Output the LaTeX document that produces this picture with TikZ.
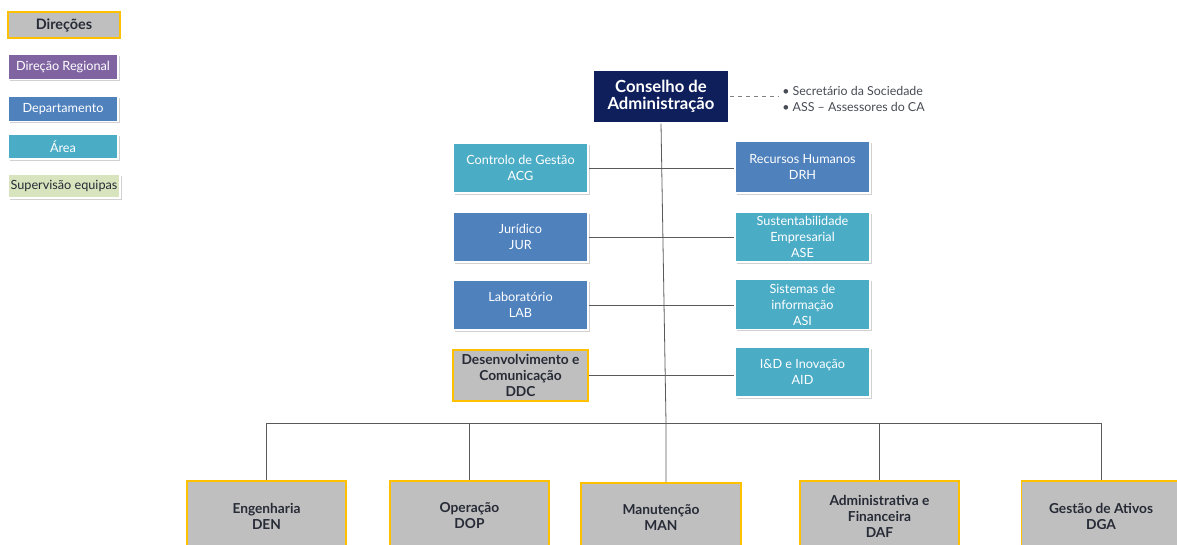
\documentclass[tikz,border=0pt]{standalone}
\usepackage{fontspec}
\setmainfont{Lato}
\usetikzlibrary{shadows}
\definecolor{navy}{HTML}{0E1F5C}
\definecolor{dblue}{HTML}{4F81BD}
\definecolor{teal}{HTML}{4BACC6}
\definecolor{purp}{HTML}{8064A2}
\definecolor{gry}{HTML}{BFBFBF}
\definecolor{yel}{HTML}{FFC000}
\definecolor{lgreen}{HTML}{D7E4BD}
\definecolor{txtdark}{HTML}{262B36}
\definecolor{linec}{HTML}{5A5A5A}
\tikzset{
  box/.style={rectangle, align=center, inner sep=1pt, draw=white, line width=1.2pt,
    drop shadow={shadow xshift=1.4pt, shadow yshift=-1.4pt, opacity=0.3, fill=black!60},
    font=\fontsize{9.5}{12}\selectfont, text=white},
  bluebox/.style={box, fill=dblue},
  tealbox/.style={box, fill=teal},
  purpbox/.style={box, fill=purp},
  greenbox/.style={box, fill=lgreen, text=txtdark},
  dirbox/.style={rectangle, align=center, inner sep=1pt, draw=yel, line width=1.2pt, fill=gry,
    text=txtdark, font=\fontsize{10.3}{12}\selectfont\bfseries},
  midbox/.style={minimum width=135*0.75pt, minimum height=50*0.75pt},
  botbox/.style={dirbox, minimum width=159*0.75pt, minimum height=70*0.75pt},
  leg/.style={minimum width=110*0.75pt, minimum height=25*0.75pt},
  conn/.style={draw=linec, line width=0.6pt},
}
\begin{document}
\begin{tikzpicture}[x=0.75pt,y=-0.75pt]
\useasboundingbox (0,0) rectangle (1177,545);
% legend
\node[dirbox, minimum width=112*0.75pt, minimum height=26*0.75pt, font=\fontsize{10.8}{12}\selectfont\bfseries] (l1) at (64,25) {Direções};
\node[purpbox, leg] (l2) at (63,67) {Direção Regional};
\node[bluebox, leg] (l3) at (63,109) {Departamento};
\node[tealbox, leg] (l4) at (63,146.5) {Área};
\node[greenbox, minimum width=112*0.75pt, minimum height=24*0.75pt] (l5) at (64,186) {Supervisão equipas};
% top
\node[rectangle, fill=navy, draw=white, line width=0.8pt, minimum width=136*0.75pt, minimum height=53*0.75pt,
  align=center, text=white, font=\fontsize{12.5}{12.5}\selectfont\bfseries, inner sep=1pt] (cons) at (661,96.5) {Conselho de\\Administração};
\node[anchor=west, align=left, text=txtdark!85, font=\fontsize{9.3}{12}\selectfont, inner sep=0pt] (bul) at (782,99)
  {• Secretário da Sociedade\\• ASS – Assessores do CA};
\draw[conn, dashed, draw=gray, shorten >=3pt] (cons.east) -- (cons.east -| bul.west);
% middle left
\node[tealbox, midbox] (acg) at (520.5,168) {Controlo de Gestão\\ACG};
\node[bluebox, midbox] (jur) at (520.5,237) {Jurídico\\JUR};
\node[bluebox, midbox] (lab) at (520.5,305) {Laboratório\\LAB};
\node[dirbox, midbox, minimum height=51*0.75pt] (ddc) at (520.5,375.5) {Desenvolvimento e\\Comunicação\\DDC};
% middle right
\node[bluebox, midbox, minimum height=52*0.75pt] (drh) at (802.5,167) {Recursos Humanos\\DRH};
\node[tealbox, midbox] (ase) at (802.5,237) {Sustentabilidade\\Empresarial\\ASE};
\node[tealbox, midbox] (asi) at (802.5,304.5) {Sistemas de\\informação\\ASI};
\node[tealbox, midbox] (aid) at (802.5,372) {I\&D e Inovação\\AID};
% bottom
\node[botbox] (den) at (266.5,516) {Engenharia\\DEN};
\node[botbox] (dop) at (469.5,516) {Operação\\DOP};
\node[botbox, minimum width=160*0.75pt] (man) at (661,518) {Manutenção\\MAN};
\node[botbox] (daf) at (879.5,516) {Administrativa e\\Financeira\\DAF};
\node[botbox] (dga) at (1101,516) {Gestão de Ativos\\DGA};
% connectors
\coordinate (tb) at (666,423);
\draw[conn] (cons.south) -- (tb) -- (tb |- man.north);
\draw[conn] (acg.east) -- (acg.east -| drh.west);
\draw[conn] (jur.east) -- (jur.east -| ase.west);
\draw[conn] (lab.east) -- (lab.east -| asi.west);
\draw[conn] (ddc.east) -- (ddc.east -| aid.west);
\draw[conn] (den.north |- tb) -- (dga.north |- tb);
\draw[conn] (den.north) -- (den.north |- tb);
\draw[conn] (dop.north) -- (dop.north |- tb);
\draw[conn] (daf.north) -- (daf.north |- tb);
\draw[conn] (dga.north) -- (dga.north |- tb);
\end{tikzpicture}
\end{document}
